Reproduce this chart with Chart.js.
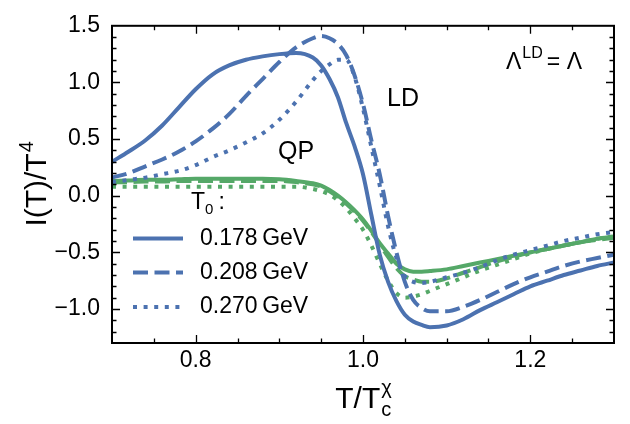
<!DOCTYPE html>
<html>
<head>
<meta charset="utf-8">
<script src="https://cdn.jsdelivr.net/npm/chart.js@4.4.1/dist/chart.umd.min.js"></script>
<style>
  html, body { margin: 0; padding: 0; background: #ffffff; }
  #wrap { width: 630px; height: 424px; }
</style>
</head>
<body>
<div id="wrap"><canvas id="c" width="630" height="424"></canvas></div>
<script>
// Temperature grid T/Tc^chi
const tRatio = [0.70, 0.72, 0.74, 0.76, 0.78, 0.80, 0.82, 0.84, 0.86, 0.88, 0.90, 0.92, 0.94, 0.95,
                0.96, 0.97, 0.98, 0.99, 1.00, 1.01, 1.02, 1.03, 1.04, 1.05, 1.06, 1.07, 1.08, 1.10,
                1.12, 1.14, 1.16, 1.18, 1.20, 1.22, 1.24, 1.26, 1.28, 1.30];

// Interaction measure I(T)/T^4, LD model
const ld178 = [0.30, 0.39, 0.49, 0.62, 0.78, 0.94, 1.07, 1.15, 1.20, 1.23, 1.25, 1.26, 1.22, 1.15,
               1.03, 0.87, 0.64, 0.435, 0.19, -0.17, -0.52, -0.76, -0.93, -1.05, -1.11, -1.14, -1.16, -1.145,
               -1.09, -1.01, -0.94, -0.87, -0.80, -0.75, -0.70, -0.66, -0.62, -0.59];
const ld208 = [0.16, 0.20, 0.26, 0.32, 0.39, 0.48, 0.59, 0.72, 0.88, 1.03, 1.18, 1.31, 1.39, 1.41,
               1.39, 1.34, 1.24, 1.06, 0.81, 0.49, 0.19, -0.18, -0.50, -0.76, -0.92, -0.99, -1.02, -1.02,
               -0.98, -0.92, -0.85, -0.78, -0.72, -0.67, -0.62, -0.58, -0.55, -0.52];
const ld270 = [0.12, 0.14, 0.16, 0.19, 0.22, 0.27, 0.34, 0.40, 0.47, 0.55, 0.67, 0.83, 1.02, 1.10,
               1.16, 1.20, 1.20, 1.05, 0.77, 0.43, 0.09, -0.27, -0.55, -0.71, -0.76, -0.77, -0.76, -0.72,
               -0.68, -0.63, -0.57, -0.52, -0.48, -0.44, -0.40, -0.37, -0.34, -0.32];

// Interaction measure I(T)/T^4, QP model
const qp178 = [0.13, 0.135, 0.14, 0.14, 0.145, 0.15, 0.15, 0.15, 0.15, 0.15, 0.145, 0.13, 0.11, 0.09,
               0.05, 0.00, -0.06, -0.13, -0.21, -0.31, -0.42, -0.51, -0.60, -0.65, -0.67, -0.67, -0.665, -0.65,
               -0.62, -0.59, -0.56, -0.53, -0.50, -0.47, -0.44, -0.41, -0.38, -0.36];
const qp208 = [0.12, 0.12, 0.125, 0.125, 0.13, 0.13, 0.13, 0.13, 0.13, 0.13, 0.13, 0.12, 0.10, 0.08,
               0.04, -0.01, -0.07, -0.14, -0.22, -0.32, -0.43, -0.54, -0.64, -0.71, -0.74, -0.76, -0.76, -0.73,
               -0.68, -0.63, -0.58, -0.54, -0.50, -0.47, -0.44, -0.41, -0.39, -0.37];
const qp270 = [0.08, 0.08, 0.08, 0.08, 0.08, 0.08, 0.08, 0.08, 0.08, 0.08, 0.08, 0.08, 0.06, 0.04,
               0.01, -0.04, -0.11, -0.20, -0.30, -0.44, -0.60, -0.75, -0.86, -0.90, -0.89, -0.87, -0.84, -0.78,
               -0.72, -0.66, -0.61, -0.56, -0.51, -0.47, -0.44, -0.41, -0.38, -0.36];

// Legend entries and axis ticks
const t0Labels = ['0.178\u2009GeV', '0.208\u2009GeV', '0.270\u2009GeV'];
const xTicks = [0.8, 1.0, 1.2];
const yTicks = [-1.0, -0.5, 0.0, 0.5, 1.0, 1.5];
const xMinorStep = 0.05;
const yMinorStep = 0.1;

const BLUE = '#4c72b0';
const GREEN = '#55a868';
const FONT = "'Liberation Sans', Arial, sans-serif";
const SOLID = [];
const DASHED = [15, 6.5];
const DOTTED = [4, 6.6];

function series(values) {
  return tRatio.map((t, i) => ({ x: t, y: values[i] }));
}
function ds(values, color, dash) {
  return {
    data: series(values),
    borderColor: color,
    borderWidth: 4,
    borderDash: dash,
    borderCapStyle: 'butt',
    pointRadius: 0,
    fill: false,
    cubicInterpolationMode: 'monotone'
  };
}

const datasets = [
  ds(ld178, BLUE, SOLID),
  ds(ld208, BLUE, DASHED),
  ds(ld270, BLUE, DOTTED),
  ds(qp178, GREEN, SOLID),
  ds(qp208, GREEN, DASHED),
  ds(qp270, GREEN, DOTTED)
];

function fmt(v) {
  return v.toFixed(1).replace('-', '\u2212');
}

// Frame, inward ticks, titles, annotations and legend
const decor = {
  id: 'decor',
  afterDraw(chart) {
    const ctx = chart.ctx;
    const a = chart.chartArea;
    const xs = chart.scales.x, ys = chart.scales.y;
    ctx.save();
    ctx.strokeStyle = '#000';
    ctx.fillStyle = '#000';

    // ticks on all four sides
    ctx.lineWidth = 1.3;
    const majorLen = 8, minorLen = 4.5;
    function xTick(v, len) {
      const px = Math.round(xs.getPixelForValue(v)) + 0.5;
      ctx.beginPath();
      ctx.moveTo(px, a.bottom); ctx.lineTo(px, a.bottom - len);
      ctx.moveTo(px, a.top); ctx.lineTo(px, a.top + len);
      ctx.stroke();
    }
    function yTick(v, len) {
      const py = Math.round(ys.getPixelForValue(v)) + 0.5;
      ctx.beginPath();
      ctx.moveTo(a.left, py); ctx.lineTo(a.left + len, py);
      ctx.moveTo(a.right, py); ctx.lineTo(a.right - len, py);
      ctx.stroke();
    }
    for (let k = 0; ; k++) {
      const v = +(xs.min + k * xMinorStep).toFixed(3);
      if (v > xs.max + 1e-9) break;
      if (v <= xs.min || v >= xs.max) continue;
      const isMajor = xTicks.some(t => Math.abs(t - v) < 1e-6);
      xTick(v, isMajor ? majorLen : minorLen);
    }
    for (let k = 0; ; k++) {
      const v = +(ys.min + k * yMinorStep).toFixed(3);
      if (v > ys.max + 1e-9) break;
      if (v <= ys.min || v >= ys.max) continue;
      const isMajor = yTicks.some(t => Math.abs(t - v) < 1e-6);
      yTick(v, isMajor ? majorLen : minorLen);
    }

    // frame
    ctx.lineWidth = 2;
    ctx.strokeRect(a.left, a.top, a.right - a.left, a.bottom - a.top);

    // x axis title: T/T_c^chi
    ctx.textBaseline = 'alphabetic';
    ctx.textAlign = 'left';
    const big = 30, small = 20;
    ctx.font = big + 'px ' + FONT;
    const wMain = ctx.measureText('T/T').width;
    ctx.font = small + 'px ' + FONT;
    const wSub = Math.max(ctx.measureText('c').width, ctx.measureText('\u03c7').width);
    let x0 = (a.left + a.right) / 2 - (wMain + wSub) / 2;
    const xb = 408;
    ctx.font = big + 'px ' + FONT;
    ctx.fillText('T/T', x0, xb);
    ctx.font = small + 'px ' + FONT;
    ctx.fillText('c', x0 + wMain + 1, xb + 8);
    ctx.fillText('\u03c7', x0 + wMain + 1, xb - 14);

    // y axis title: I(T)/T^4
    ctx.save();
    ctx.translate(46, (a.top + a.bottom) / 2);
    ctx.rotate(-Math.PI / 2);
    ctx.font = big + 'px ' + FONT;
    const wy = ctx.measureText('I(T)/T').width;
    ctx.font = small + 'px ' + FONT;
    const w4 = ctx.measureText('4').width;
    const y0 = -(wy + w4) / 2;
    ctx.font = big + 'px ' + FONT;
    ctx.fillText('I(T)/T', y0, 0);
    ctx.font = small + 'px ' + FONT;
    ctx.fillText('4', y0 + wy + 1, -13);
    ctx.restore();

    // curve annotations
    ctx.font = '25px ' + FONT;
    ctx.fillText('LD', 387, 106);
    ctx.fillText('QP', 278, 159);

    // Lambda^LD = Lambda
    ctx.font = '23px ' + FONT;
    let lx = 506;
    ctx.fillText('\u039b', lx, 69);
    lx += ctx.measureText('\u039b').width + 1;
    ctx.font = '16px ' + FONT;
    ctx.fillText('LD', lx, 58);
    lx += ctx.measureText('LD').width + 4;
    ctx.font = '23px ' + FONT;
    ctx.fillText('= \u039b', lx, 69);

    // legend header T_0 :
    ctx.font = '23px ' + FONT;
    let tx = 191;
    ctx.fillText('T', tx, 209);
    tx += ctx.measureText('T').width;
    ctx.font = '15px ' + FONT;
    ctx.fillText('0', tx, 214);
    tx += ctx.measureText('0').width + 5;
    ctx.font = '23px ' + FONT;
    ctx.fillText(':', tx, 209);

    // legend rows (LD line styles)
    const rowY = [238.5, 272.5, 307];
    for (let i = 0; i < 3; i++) {
      const d = chart.data.datasets[i];
      ctx.save();
      ctx.strokeStyle = d.borderColor;
      ctx.lineWidth = d.borderWidth;
      ctx.lineCap = 'butt';
      ctx.setLineDash(d.borderDash);
      ctx.beginPath();
      ctx.moveTo(133, rowY[i]);
      ctx.lineTo(183, rowY[i]);
      ctx.stroke();
      ctx.restore();
      ctx.font = '23px ' + FONT;
      ctx.textBaseline = 'middle';
      ctx.fillText(t0Labels[i], 200, rowY[i]);
      ctx.textBaseline = 'alphabetic';
    }
    ctx.restore();
  }
};

new Chart(document.getElementById('c'), {
  type: 'line',
  data: { datasets },
  options: {
    responsive: false,
    animation: false,
    devicePixelRatio: 1,
    layout: { padding: { left: 0, right: 16, top: 10, bottom: 0 } },
    plugins: { legend: { display: false }, tooltip: { enabled: false } },
    scales: {
      x: {
        type: 'linear',
        min: 0.7,
        max: 1.3,
        grid: { display: false, drawTicks: false },
        border: { display: false },
        afterBuildTicks: s => { s.ticks = xTicks.map(v => ({ value: v })); },
        afterFit: s => { s.height = 81; },
        ticks: {
          padding: 4,
          color: '#000',
          font: { family: FONT, size: 23 },
          maxRotation: 0,
          callback: v => fmt(v)
        }
      },
      y: {
        type: 'linear',
        min: -1.3,
        max: 1.5,
        grid: { display: false, drawTicks: false },
        border: { display: false },
        afterBuildTicks: s => { s.ticks = yTicks.map(v => ({ value: v })); },
        afterFit: s => { s.width = 112; },
        ticks: {
          padding: 12,
          color: '#000',
          font: { family: FONT, size: 23 },
          callback: v => fmt(v)
        }
      }
    }
  },
  plugins: [decor]
});
</script>
</body>
</html>
